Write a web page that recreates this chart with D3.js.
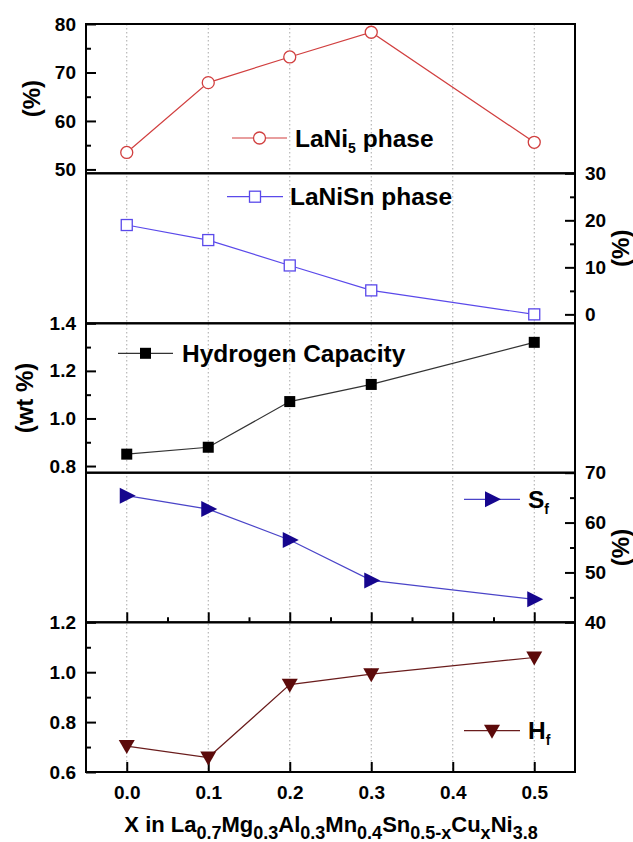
<!DOCTYPE html>
<meta charset="utf-8">
<style>
    body { margin: 0; background: #fff; }
    text { font-family: "Liberation Sans", Arial, sans-serif; font-weight: bold; fill: #000; }
    .tick text { font-size: 19px; }
    .grid { stroke: #a8a8a8; stroke-width: 1; stroke-dasharray: 1.5,2.5; }
</style>
<body>
<script src="https://cdn.jsdelivr.net/npm/d3@7"></script>
<script>
    // values
    var xs = [0.0, 0.1, 0.2, 0.3, 0.5]
    var xTicks = [0.0, 0.1, 0.2, 0.3, 0.4, 0.5]
    var lani5 = [53.5, 67.9, 73.2, 78.3, 55.6]
    var lanisn = [19.0, 15.8, 10.4, 5.1, 0.0]
    var hcap = [0.85, 0.879, 1.071, 1.143, 1.32]
    var sf = [65.4, 62.7, 56.5, 48.4, 44.6]
    var hf = [0.704, 0.658, 0.95, 0.992, 1.059]

    var width = 633, height = 842
    var left = 86, right = 575
    var edges = [24, 173.3, 323.3, 472.7, 622.3, 772]

    var svg = d3.select("body").append("svg")
        .attr("width", width)
        .attr("height", height)

    var x = d3.scaleLinear().domain([-0.05, 0.55]).range([left, right])

    // dotted verticals through every panel
    svg.selectAll("line.grid")
        .data(xTicks)
      .enter().append("line")
        .attr("class", "grid")
        .attr("x1", d => x(d)).attr("x2", d => x(d))
        .attr("y1", edges[0]).attr("y2", edges[5])

    var panels = [
        {values: lani5, domain: [49.2, 80], side: "left", ticks: [50, 60, 70, 80], minor: [55, 65, 75],
         fmt: d3.format("d"), color: "#d13f3f", line: "#d13f3f", marker: "circle",
         title: "(%)", titleX: 32, legX: [232, 287], legY: 138, label: [["LaNi", 0], ["5", 1], [" phase", 0]], labX: 295},
        {values: lanisn, domain: [-1.9, 30], side: "right", ticks: [0, 10, 20, 30], minor: [5, 15, 25],
         fmt: d3.format("d"), color: "#5a49ea", line: "#5a49ea", marker: "square",
         title: "(%)", titleX: 621, legX: [227, 283], legY: 196.7, label: [["LaNiSn phase", 0]], labX: 290},
        {values: hcap, domain: [0.772, 1.4], side: "left", ticks: [0.8, 1.0, 1.2, 1.4], minor: [0.9, 1.1, 1.3],
         fmt: d3.format(".1f"), color: "#000", line: "#333", marker: "fsquare",
         title: "(wt %)", titleX: 25, legX: [118, 173], legY: 353.3, label: [["Hydrogen Capacity", 0]], labX: 182},
        {values: sf, domain: [40, 70], side: "right", ticks: [40, 50, 60, 70], minor: [45, 55, 65],
         fmt: d3.format("d"), color: "#16068e", line: "#4a44c8", marker: "tright",
         title: "(%)", titleX: 621, legX: [464, 520], legY: 499.3, label: [["S", 0], ["f", 1]], labX: 528},
        {values: hf, domain: [0.6, 1.2], side: "left", ticks: [0.6, 0.8, 1.0, 1.2], minor: [0.7, 0.9, 1.1],
         fmt: d3.format(".1f"), color: "#5c0a0a", line: "#6a1c1c", marker: "tdown",
         title: null, legX: [464, 520], legY: 730.7, label: [["H", 0], ["f", 1]], labX: 528}
    ]

    function drawMarker(g, kind, cx, cy, color) {
        if (kind == "circle") {
            g.append("circle").attr("cx", cx).attr("cy", cy).attr("r", 6)
                .attr("fill", "#fff").attr("stroke", color).attr("stroke-width", 1.3)
        } else if (kind == "square") {
            g.append("rect").attr("x", cx - 5.5).attr("y", cy - 5.5).attr("width", 11).attr("height", 11)
                .attr("fill", "#fff").attr("stroke", color).attr("stroke-width", 1.3)
        } else if (kind == "fsquare") {
            g.append("rect").attr("x", cx - 5.5).attr("y", cy - 5.5).attr("width", 11).attr("height", 11)
                .attr("fill", color)
        } else if (kind == "tright") {
            g.append("path").attr("d", `M${cx-7},${cy-8}L${cx+9},${cy}L${cx-7},${cy+8}Z`).attr("fill", color)
        } else {
            g.append("path").attr("d", `M${cx-8},${cy-6}L${cx+8},${cy-6}L${cx},${cy+8}Z`).attr("fill", color)
        }
    }

    panels.forEach(function(p, i) {
        var top = edges[i], bottom = edges[i + 1]
        var y = d3.scaleLinear().domain(p.domain).range([bottom, top])
        var g = svg.append("g")

        var ax = p.side == "left" ? d3.axisLeft(y) : d3.axisRight(y)
        var pos = p.side == "left" ? left : right
        g.append("g").attr("transform", `translate(${pos},0)`)
            .call(ax.tickValues(p.ticks).tickFormat(p.fmt).tickSize(-10).tickPadding(10))
            .call(s => s.select(".domain").remove())
            .call(s => s.selectAll("line").attr("stroke", "#000").attr("stroke-width", 2))
            .call(s => s.selectAll("text").attr("font-family", null).attr("font-size", null))
        var axm = p.side == "left" ? d3.axisLeft(y) : d3.axisRight(y)
        g.append("g").attr("transform", `translate(${pos},0)`)
            .call(axm.tickValues(p.minor).tickFormat("").tickSize(-5))
            .call(s => s.select(".domain").remove())
            .call(s => s.selectAll("line").attr("stroke", "#000").attr("stroke-width", 2))

        // bottom x ticks on the last two panels
        if (i >= 3) {
            g.append("g").attr("transform", `translate(0,${bottom})`)
                .call(d3.axisBottom(x).tickValues(xTicks).tickSize(-10)
                    .tickFormat(i == 4 ? d3.format(".1f") : "").tickPadding(14))
                .call(s => s.select(".domain").remove())
                .call(s => s.selectAll("line").attr("stroke", "#000").attr("stroke-width", 2))
                .call(s => s.selectAll("text").attr("font-family", null).attr("font-size", null))
        }
        if (i == 3) {
            g.append("g").attr("transform", `translate(0,${bottom})`)
                .call(d3.axisBottom(x).tickValues([0.05, 0.15, 0.25, 0.35, 0.45]).tickSize(-5).tickFormat(""))
                .call(s => s.select(".domain").remove())
                .call(s => s.selectAll("line").attr("stroke", "#000").attr("stroke-width", 2))
        }

        g.append("rect")
            .attr("x", left).attr("y", top)
            .attr("width", right - left).attr("height", bottom - top)
            .attr("fill", "none").attr("stroke", "#000").attr("stroke-width", 2)

        var line = d3.line().x((d, j) => x(xs[j])).y(d => y(d))
        g.append("path").datum(p.values)
            .attr("d", line).attr("fill", "none")
            .attr("stroke", p.line).attr("stroke-width", 1.2)
        p.values.forEach((v, j) => drawMarker(g, p.marker, x(xs[j]), y(v), p.color))

        // legend
        g.append("line").attr("x1", p.legX[0]).attr("x2", p.legX[1])
            .attr("y1", p.legY).attr("y2", p.legY)
            .attr("stroke", p.line).attr("stroke-width", 1.2)
        drawMarker(g, p.marker, (p.legX[0] + p.legX[1]) / 2, p.legY, p.color)
        var t = g.append("text").attr("x", p.labX).attr("y", p.legY + 8.5).attr("font-size", 24.5)
        p.label.forEach(function(part) {
            var ts = t.append("tspan").text(part[0])
            if (part[1]) ts.attr("font-size", 14).attr("dy", 6)
            else if (ts.node().previousSibling) ts.attr("dy", -6)
        })

        if (p.title) {
            svg.append("text")
                .attr("transform", `translate(${p.titleX},${(top + bottom) / 2}) rotate(-90)`)
                .attr("text-anchor", "middle").attr("dy", "0.35em")
                .attr("font-size", 24).text(p.title)
        }
    })

    // x title with subscripts
    var xt = [["X in La", 0], ["0.7", 1], ["Mg", 0], ["0.3", 1], ["Al", 0], ["0.3", 1], ["Mn", 0], ["0.4", 1],
              ["Sn", 0], ["0.5-x", 1], ["Cu", 0], ["x", 1], ["Ni", 0], ["3.8", 1]]
    var title = svg.append("text").attr("x", 331).attr("y", 832)
        .attr("text-anchor", "middle").attr("font-size", 22)
    var prev = 0
    xt.forEach(function(part) {
        var ts = title.append("tspan").text(part[0])
        if (part[1]) ts.attr("font-size", 18).attr("dy", 7 - prev)
        else ts.attr("dy", -prev)
        prev = part[1] ? 7 : 0
    })
</script>
</body>
